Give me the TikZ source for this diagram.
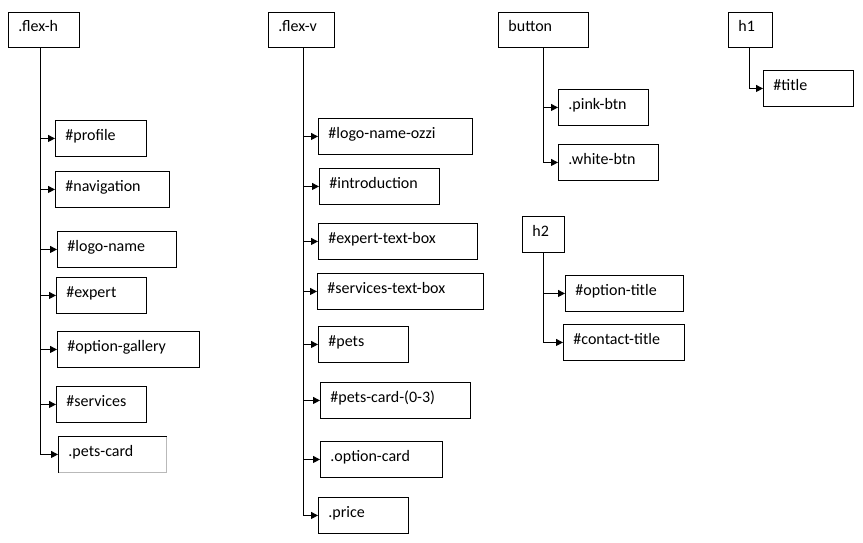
\documentclass[tikz,border=0pt]{standalone}
\usepackage{fontspec}
\setmainfont{Carlito}
\usetikzlibrary{arrows.meta}
\begin{document}
\begin{tikzpicture}[x=1pt,y=-1pt,
  bx/.style={draw=black, line width=0.9pt, anchor=north west, align=left,
    inner xsep=10pt, inner ysep=0pt, text height=20pt, text depth=16pt,
    font=\fontsize{16}{19}\selectfont},
  arr/.style={line width=1pt, -{Triangle[length=7pt,width=7pt]}},
  trunk/.style={line width=1pt}]
\useasboundingbox (0,0) rectangle (863,542);
% .flex-h group
\node[bx, text height=19pt, text width=51pt] (fh) at (8,12) {.flex-h};
\node[bx, text width=71pt] (profile) at (55,120) {\#profile};
\node[bx, text width=94pt] (nav) at (55,171) {\#navigation};
\node[bx, text width=99pt] (logoname) at (57,231) {\#logo-name};
\node[bx, text width=70pt] (expert) at (56,277) {\#expert};
\node[bx, text width=122pt] (optgal) at (57,331) {\#option-gallery};
\node[bx, text width=70pt] (services) at (56,386) {\#services};
\node[bx, draw=gray!55, text width=88pt] (petscard) at (58,436) {.pets-card};
\draw[line width=0.9pt] (petscard.south west) |- (petscard.north east);
\coordinate (fhT) at ([xshift=-3.5pt]fh.south);
\foreach \c in {profile,nav,logoname,expert,optgal,services,petscard}
  \draw[arr] (fhT) |- (\c.west);
% .flex-v group
\node[bx, text height=19pt, text width=46pt] (fv) at (268,12) {.flex-v};
\node[bx, text width=134pt] (ozzi) at (318,118) {\#logo-name-ozzi};
\node[bx, text width=100pt] (intro) at (319,168) {\#introduction};
\node[bx, text width=139pt] (expertbox) at (318,223) {\#expert-text-box};
\node[bx, text width=146pt] (servbox) at (317,273) {\#services-text-box};
\node[bx, text width=70pt] (pets) at (318,326) {\#pets};
\node[bx, text width=130pt] (petscards) at (320,382) {\#pets-card-(0-3)};
\node[bx, text width=102pt] (optcard) at (320,441) {.option-card};
\node[bx, text width=70pt] (price) at (318,497) {.price};
\coordinate (fvT) at ([xshift=2pt]fv.south);
\foreach \c in {ozzi,intro,expertbox,servbox,pets,petscards,optcard,price}
  \draw[arr] (fvT) |- (\c.west);
% button group
\node[bx, text height=19pt, text width=70pt] (button) at (498,12) {button};
\node[bx, text width=70pt] (pink) at (558,89) {.pink-btn};
\node[bx, text width=80pt] (white) at (558,144) {.white-btn};
\foreach \c in {pink,white}
  \draw[arr] (button.south) |- (\c.west);
% h1 group
\node[bx, text height=19pt, text width=24pt] (hone) at (728,12) {h1};
\node[bx, text width=70pt] (title) at (763,70) {\#title};
\coordinate (hoT) at ([xshift=-1pt]hone.south);
\draw[arr] (hoT) |- (title.west);
% h2 group
\node[bx, text width=22pt] (htwo) at (522,216) {h2};
\node[bx, text width=98pt] (opttitle) at (565,275) {\#option-title};
\node[bx, text width=101pt] (contact) at (563,324) {\#contact-title};
\foreach \c in {opttitle,contact}
  \draw[arr] (htwo.south) |- (\c.west);
\end{tikzpicture}
\end{document}
